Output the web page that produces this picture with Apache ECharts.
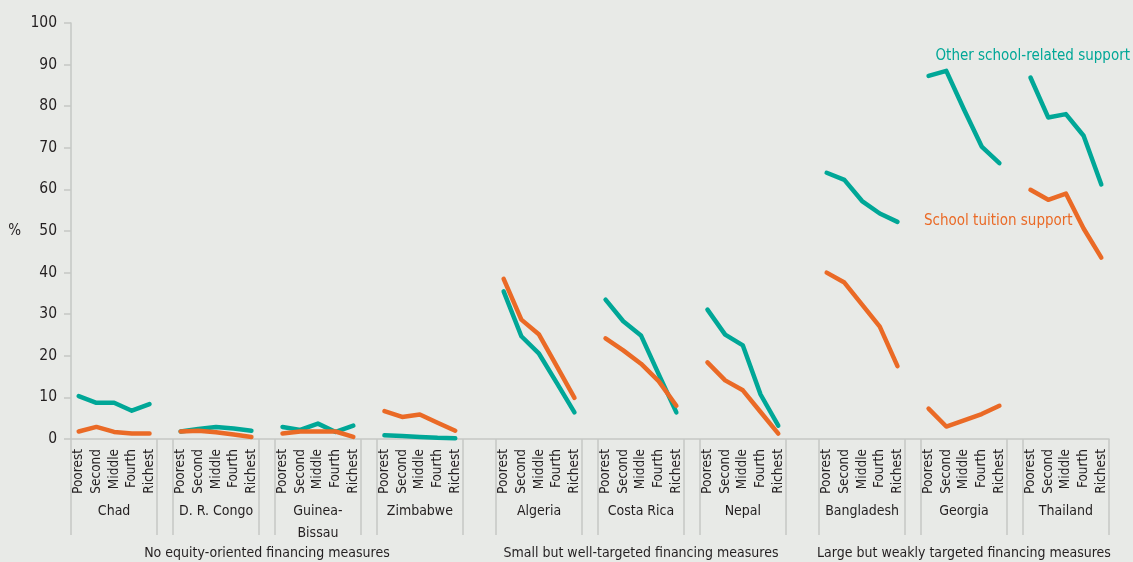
<!DOCTYPE html>
<html>
<head>
<meta charset="utf-8">
<script src="https://cdn.jsdelivr.net/npm/echarts@6/dist/echarts.min.js"></script>
<style>
  html, body { margin: 0; padding: 0; background: #e8eae7; }
  #chart { width: 1133px; height: 562px; }
</style>
</head>
<body>
<div id="chart"></div>
<script>
// ---- Data ----
const quintiles = ['Poorest', 'Second', 'Middle', 'Fourth', 'Richest'];
const countries = ['Chad', 'D. R. Congo', 'Guinea-\nBissau', 'Zimbabwe', 'Algeria', 'Costa Rica', 'Nepal', 'Bangladesh', 'Georgia', 'Thailand'];
const groups = ['No equity-oriented financing measures', 'Small but well-targeted financing measures', 'Large but weakly targeted financing measures'];
const groupSizes = [4, 3, 3];
const yTicks = [0, 10, 20, 30, 40, 50, 60, 70, 80, 90, 100];
const otherSupport = [
  [10.3, 8.7, 8.7, 6.8, 8.4],
  [1.8, 2.4, 2.9, 2.5, 2.0],
  [2.9, 2.2, 3.7, 1.7, 3.2],
  [0.9, 0.7, 0.5, 0.3, 0.2],
  [35.5, 24.7, 20.5, 13.5, 6.4],
  [33.5, 28.3, 24.9, 15.6, 6.4],
  [31.1, 25.1, 22.5, 10.7, 3.2],
  [64.0, 62.3, 57.2, 54.2, 52.2],
  [87.3, 88.5, 79.2, 70.3, 66.3],
  [86.9, 77.3, 78.1, 72.9, 61.2]
];
const tuitionSupport = [
  [1.8, 2.9, 1.7, 1.3, 1.3],
  [1.8, 2.0, 1.6, 1.1, 0.5],
  [1.3, 1.8, 1.8, 1.8, 0.5],
  [6.7, 5.3, 5.9, 3.9, 2.0],
  [38.5, 28.7, 25.1, 17.5, 9.9],
  [24.2, 21.3, 18.1, 13.9, 8.0],
  [18.4, 14.1, 11.7, 6.5, 1.3],
  [40.0, 37.6, 32.3, 27.0, 17.5],
  [7.3, 3.0, 4.5, 6.0, 8.0],
  [59.9, 57.5, 59.0, 50.6, 43.6]
];
const seriesNames = ['Other school-related support', 'School tuition support'];

// ---- Layout of the x scale (units: one quintile step) ----
const BOX = 4.87, GAP = 0.887, BIG = 1.864;
const boxStarts = [];
const separators = [];
const groupCenters = [];
let pos = 0;
groupSizes.forEach((n, g) => {
  const gStart = pos;
  for (let i = 0; i < n; i++) {
    boxStarts.push(pos);
    separators.push(pos, pos + BOX);
    pos += BOX;
    if (i < n - 1) pos += GAP;
  }
  groupCenters.push((gStart + pos) / 2);
  if (g < groupSizes.length - 1) pos += BIG;
});
const TOTAL = pos;
const OFF = (BOX - 4) / 2;
const quintilePos = [], quintileLab = [];
boxStarts.forEach(s => quintiles.forEach((q, i) => { quintilePos.push(s + OFF + i); quintileLab.push(q); }));
const countryCenters = boxStarts.map(s => s + BOX / 2);

function lookup(list, labels) {
  return function (v) {
    for (let i = 0; i < list.length; i++) if (Math.abs(list[i] - v) < 1e-6) return labels[i];
    return '';
  };
}
function buildSeries(values) {
  const out = [];
  values.forEach((row, c) => {
    row.forEach((v, i) => out.push([boxStarts[c] + OFF + i, v]));
    if (c < values.length - 1) out.push([boxStarts[c] + BOX + GAP / 2, '-']);
  });
  return out;
}

const FONT = '"Liberation Sans Narrow", "DejaVu Sans Condensed", sans-serif';
const TEXT = '#231f20';
const AXIS = '#c5c7c5';
const TEAL = '#00a797';
const ORANGE = '#ea6a26';

const chart = echarts.init(document.getElementById('chart'), null, { renderer: 'canvas' });
chart.setOption({
  backgroundColor: '#e8eae7',
  animation: false,
  textStyle: { fontFamily: FONT, color: TEXT },
  grid: { left: 71, right: 24, top: 23, bottom: 123, containLabel: false, outerBoundsMode: 'none' },
  xAxis: [
    {
      type: 'value', min: 0, max: TOTAL, position: 'bottom',
      axisLine: { show: true, onZero: false, lineStyle: { color: AXIS, width: 1.5 } },
      splitLine: { show: false },
      axisTick: { show: true, customValues: separators, length: 96, lineStyle: { color: AXIS, width: 1.5 } },
      axisLabel: { customValues: quintilePos, rotate: 90, formatter: lookup(quintilePos, quintileLab),
        showMinLabel: true, showMaxLabel: true,
        fontSize: 13.5, margin: 10, color: TEXT, fontFamily: FONT }
    },
    {
      type: 'value', min: 0, max: TOTAL, position: 'bottom',
      axisLine: { show: false }, axisTick: { show: false }, splitLine: { show: false },
      axisLabel: { customValues: countryCenters, formatter: lookup(countryCenters, countries),
        showMinLabel: true, showMaxLabel: true,
        fontSize: 14, lineHeight: 22, margin: 61, color: TEXT, fontFamily: FONT }
    },
    {
      type: 'value', min: 0, max: TOTAL, position: 'bottom',
      axisLine: { show: false }, axisTick: { show: false }, splitLine: { show: false },
      axisLabel: { customValues: groupCenters, formatter: lookup(groupCenters, groups),
        showMinLabel: true, showMaxLabel: true,
        fontSize: 14, margin: 107, color: TEXT, fontFamily: FONT }
    }
  ],
  yAxis: {
    type: 'value', min: 0, max: 100, interval: 10,
    name: '%', nameLocation: 'middle', nameGap: 50, nameRotate: 0,
    nameTextStyle: { fontSize: 15, color: TEXT, fontFamily: FONT },
    axisLine: { show: true, onZero: false, lineStyle: { color: AXIS, width: 1.5 } },
    axisTick: { show: true, length: 7, lineStyle: { color: AXIS, width: 1.5 } },
    splitLine: { show: false },
    axisLabel: { fontSize: 15.5, margin: 14, color: TEXT, fontFamily: FONT,
      showMinLabel: true, showMaxLabel: true, customValues: yTicks }
  },
  series: [
    { name: seriesNames[0], type: 'line', xAxisIndex: 0, data: buildSeries(otherSupport), symbol: 'none',
      connectNulls: false, lineStyle: { color: TEAL, width: 4.5, cap: 'round', join: 'round' }, z: 3 },
    { name: seriesNames[1], type: 'line', xAxisIndex: 0, data: buildSeries(tuitionSupport), symbol: 'none',
      connectNulls: false, lineStyle: { color: ORANGE, width: 4.5, cap: 'round', join: 'round' }, z: 4 }
  ],
  graphic: [
    { type: 'text', right: 3, top: 49, style: { text: seriesNames[0], fill: TEAL, fontSize: 15, fontFamily: FONT } },
    { type: 'text', left: 924, top: 214, style: { text: seriesNames[1], fill: ORANGE, fontSize: 15, fontFamily: FONT } }
  ]
});
</script>
</body>
</html>
